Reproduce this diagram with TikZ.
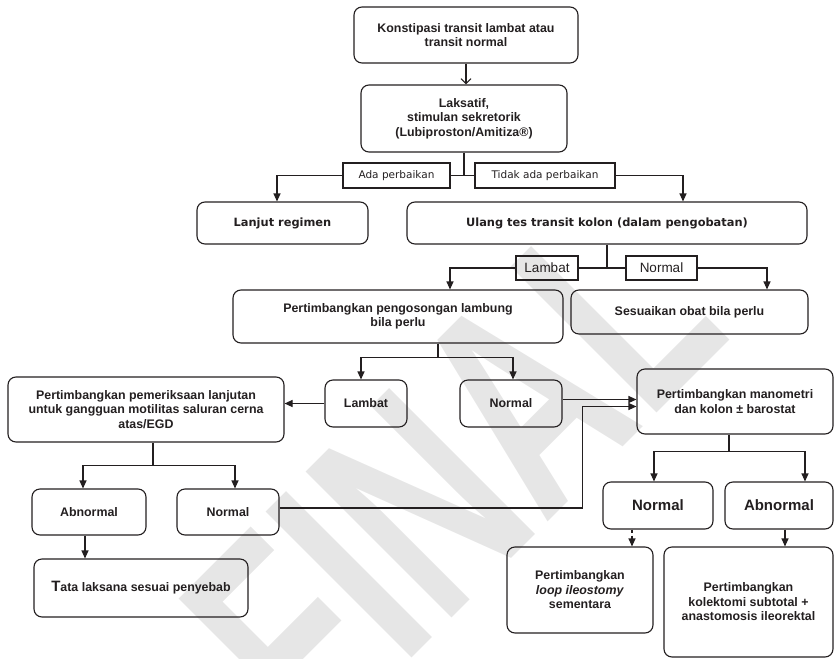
\documentclass[tikz,border=0pt]{standalone}
\usepackage{fontspec}
\setmainfont{Liberation Sans}
\newfontfamily\vdfont{DejaVu Sans}
\usetikzlibrary{arrows.meta,positioning,calc}
\definecolor{fcLine}{HTML}{231F20}
\definecolor{fcMark}{HTML}{E6E6E6}

\begin{document}
\begin{tikzpicture}[x=1pt,y=-1pt,line width=1.1pt,color=fcLine,
      >={Triangle[length=8pt,width=7pt]},
      bx/.style={draw,rounded corners=8pt,align=center,inner sep=2pt,
                 font=\bfseries\fontsize{12.4}{14.5}\selectfont},
      vbx/.style={bx,font=\vdfont\bfseries\fontsize{11.4}{13}\selectfont},
      big/.style={bx,font=\bfseries\fontsize{15}{17}\selectfont},
      lb/.style={draw,inner sep=2pt,font=\fontsize{13.5}{15}\selectfont},
      vlb/.style={lb,font=\vdfont\fontsize{10.5}{13}\selectfont}]
    \useasboundingbox (0,0) rectangle (836,659);
    % watermark
    \node[rotate=45,xscale=0.67,text=fcMark,font=\bfseries\fontsize{300}{300}\selectfont] (wm) at (452,472) {FINAL};
    % top
    \node[bx,minimum width=224pt,minimum height=56pt] (kt) at (466,35) {Konstipasi transit lambat atau\\transit normal};
    \node[bx,minimum width=206pt,minimum height=67pt] (lk) at (464,118.5) {Laksatif,\\stimulan sekretorik\\(Lubiproston/Amitiza®)};
    \node[vlb,minimum width=107pt,minimum height=25pt] (ada) at (396.5,175.5) {Ada perbaikan};
    \node[vlb,minimum width=140pt,minimum height=25pt] (tdk) at (545,175.5) {Tidak ada perbaikan};
    \node[vbx,minimum width=171pt,minimum height=42pt] (lr) at (282.5,223) {Lanjut regimen};
    \node[vbx,minimum width=400pt,minimum height=42pt] (ul) at (607,223) {Ulang tes transit kolon (dalam pengobatan)};
    \node[lb,minimum width=62pt,minimum height=24pt] (lbt) at (547,268) {Lambat};
    \node[lb,minimum width=71pt,minimum height=24pt] (nrm) at (661.5,268) {Normal};
    \node[bx,minimum width=330pt,minimum height=53pt] (pg) at (398,316.5) {Pertimbangkan pengosongan lambung\\bila perlu};
    \node[bx,minimum width=237pt,minimum height=44pt] (ss) at (689.5,312) {Sesuaikan obat bila perlu};
    % middle
    \node[bx,minimum width=82pt,minimum height=47pt] (lb2) at (366,403.5) {Lambat};
    \node[bx,minimum width=102pt,minimum height=47pt] (nm2) at (511,403.5) {Normal};
    \node[bx,minimum width=276pt,minimum height=65pt] (pe) at (146,409.5) {Pertimbangkan pemeriksaan lanjutan\\untuk gangguan motilitas saluran cerna\\atas/EGD};
    \node[bx,minimum width=196pt,minimum height=65pt] (mn) at (735,401.5) {Pertimbangkan manometri\\dan kolon ± barostat};
    % bottom left
    \node[bx,minimum width=114pt,minimum height=46pt] (ab3) at (89,512) {Abnormal};
    \node[bx,minimum width=102pt,minimum height=46pt] (nm3) at (228,512) {Normal};
    \node[bx,minimum width=214pt,minimum height=58pt] (tl) at (141,588) {{\fontsize{15}{15}\selectfont T}ata laksana sesuai penyebab};
    % bottom right
    \node[big,minimum width=110pt,minimum height=47pt] (nm4) at (658,505.5) {Normal};
    \node[big,minimum width=108pt,minimum height=47pt] (ab4) at (779,505.5) {Abnormal};
    \node[bx,minimum width=146pt,minimum height=86pt] (lo) at (580,590) {Pertimbangkan\\\textit{loop ileostomy}\\sementara};
    \node[bx,minimum width=169pt,minimum height=110pt] (kl) at (748.5,602) {Pertimbangkan\\kolektomi subtotal +\\anastomosis ileorektal};
    % connectors
    \draw[-{Straight Barb[length=5pt,width=10pt]}] (kt.south) -- (kt.south |- lk.north);
    \draw (lk.south) -- (lk.south |- ada.east);
    \draw (ada.east) -- (tdk.west);
    \draw[->] (ada.west) -| ([xshift=-5.5pt]lr.north);
    \draw[->] (tdk.east) -| ([xshift=76pt]ul.north);
    \draw (ul.south) -- (ul.south |- lbt.east);
    \draw (lbt.east) -- (nrm.west);
    \draw[->] (lbt.west) -| ([xshift=52pt]pg.north);
    \draw[->] (nrm.east) -| ([xshift=77.5pt]ss.north);
    \draw ([xshift=40pt]pg.south) -- ++(0,14) coordinate (j1);
    \draw[->] (j1) -| ([xshift=-5pt]lb2.north);
    \draw[->] (j1) -| ([xshift=2pt]nm2.north);
    \draw[->] (lb2.west) -- (lb2.west -| pe.east);
    \draw ([xshift=7pt]pe.south) -- ++(0,23) coordinate (j2);
    \draw[->] (j2) -| ([xshift=-6pt]ab3.north);
    \draw[->] (j2) -| ([xshift=7pt]nm3.north);
    \draw[->] ([xshift=-4pt]ab3.south) -- ([xshift=-4pt]ab3.south |- tl.north);
    \draw[->] ([yshift=4pt]nm2.east) -- ([yshift=4pt]nm2.east -| mn.west);
    \draw[->] ([yshift=4pt]nm3.east) -- ++(303,0) |- ([yshift=-5pt]mn.west);
    \draw ([xshift=-6pt]mn.south) -- ++(0,17) coordinate (j3);
    \draw[->] (j3) -| ([xshift=-4pt]nm4.north);
    \draw[->] (j3) -| ([xshift=26pt]ab4.north);
    \draw[->,dashed] ([xshift=-26pt]nm4.south) -- ([xshift=-26pt]nm4.south |- lo.north);
    \draw[->] ([xshift=6pt]ab4.south) -- ([xshift=6pt]ab4.south |- kl.north);
  \end{tikzpicture}
\end{document}
